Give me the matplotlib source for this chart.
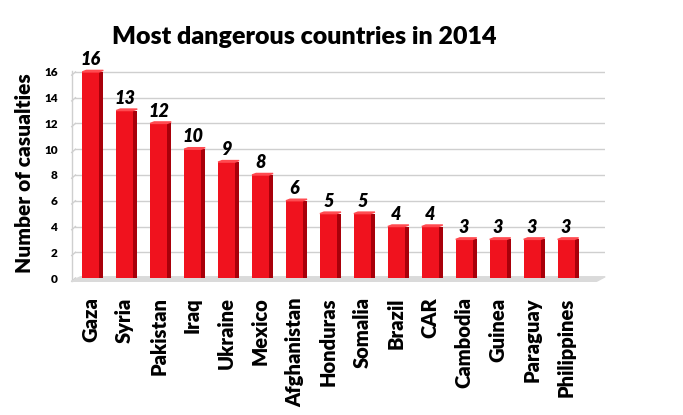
import matplotlib
matplotlib.use('Agg')
import matplotlib.pyplot as plt
from matplotlib.patches import Polygon
import numpy as np

countries = ['Gaza', 'Syria', 'Pakistan', 'Iraq', 'Ukraine', 'Mexico', 'Afghanistan',
             'Honduras', 'Somalia', 'Brazil', 'CAR', 'Cambodia', 'Guinea', 'Paraguay',
             'Philippines']
casualties = [16, 13, 12, 10, 9, 8, 6, 5, 5, 4, 4, 3, 3, 3, 3]
yticks = [0, 2, 4, 6, 8, 10, 12, 14, 16]

plt.rcParams['font.family'] = ['Lato', 'DejaVu Sans']

fig = plt.figure(figsize=(6.83, 4.15), dpi=100)
ax = fig.add_axes([0.105, 0.330, 0.781, 0.506])

x = np.arange(len(countries))
w = 0.5
d = 0.12  # depth of the fake 3d side

ax.set_xlim(-0.56, 15.15)
ax.set_ylim(0, 16.3)

# gridlines, left wall and floor
for t in yticks:
    ax.plot([-0.45, 15.15], [t, t], color='#cfcfcf', lw=1.0, zorder=0)
    ax.plot([-0.56, -0.45], [t - 0.25, t], color='#cfcfcf', lw=1.0, zorder=0, clip_on=False)
floor = Polygon([[-0.56, -0.25], [14.9, -0.25], [15.15, 0.1], [-0.3, 0.1]],
                closed=True, color='#dadada', zorder=1, clip_on=False)
ax.add_patch(floor)

ax.bar(x, casualties, width=w, color='#f0121e', zorder=3)
ax.bar(x + w / 2 + d / 2, casualties, width=d, color='#a8000a', zorder=3)
for xi, v in zip(x, casualties):
    top = Polygon([[xi - w / 2, v], [xi + w / 2, v], [xi + w / 2 + d, v + 0.12],
                   [xi - w / 2 + d, v + 0.12]], closed=True, color='#ff4a50', zorder=4)
    ax.add_patch(top)
    ax.text(xi, v + 0.3, str(v), ha='center', va='bottom', fontsize=13,
            fontweight='heavy', fontstyle='italic', zorder=5)

ax.set_xticks(x)
ax.set_xticklabels(countries, rotation=90, fontsize=14.5, fontweight='heavy')
ax.set_yticks(yticks)
ax.set_yticklabels([str(t) for t in yticks], fontsize=8.5, fontweight='heavy')
ax.tick_params(axis='x', length=0, pad=14)
ax.tick_params(axis='y', length=0, pad=10)
for s in ax.spines.values():
    s.set_visible(False)
ax.plot([-0.56, -0.56], [-0.25, 16.05], color='#cfcfcf', lw=1.0, zorder=0, clip_on=False)

ax.set_ylabel('Number of casualties', fontsize=15, fontweight='heavy', labelpad=7)
fig.text(0.446, 0.91, 'Most dangerous countries in 2014', ha='center', va='center',
         fontsize=18, fontweight='heavy')

fig.savefig('out.png', dpi=100)
